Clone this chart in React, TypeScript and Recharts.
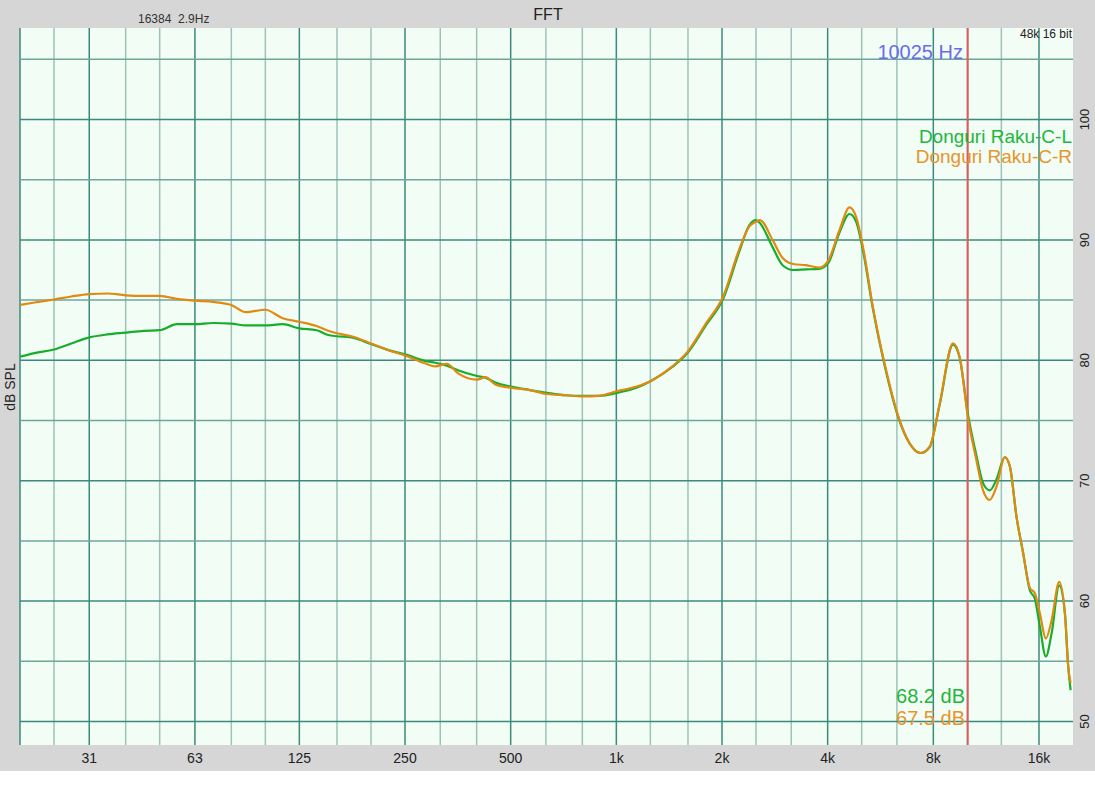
import React from "react";
import {
  LineChart,
  Line,
  XAxis,
  YAxis,
  CartesianGrid,
  ReferenceLine,
} from "recharts";

// frequency points (Hz) and measured SPL (dB) for both channels
const freqs = [
  20, 22, 25, 28, 31.5, 35.5, 40, 45, 50, 56, 63, 71, 80, 88, 100, 112, 125,
  140, 151, 160, 176, 200, 224, 253, 285, 305, 329, 355, 401, 424, 452, 505,
  563, 635, 717, 800, 892, 1006, 1136, 1266, 1444, 1594, 1799, 2015, 2238,
  2391, 2499, 2565, 2787, 2977, 3194, 3471, 3789, 4019, 4321, 4616, 4823,
  5059, 5380, 5809, 6367, 6846, 7360, 7808, 8339, 9100, 9509, 10043, 10612,
  11085, 11584, 12106, 12786, 13215, 13808, 14419, 15068, 15571, 16091, 16737,
  17377, 18270, 18965, 19381, 19690,
];

const leftSpl = [
  80.3, 80.6, 80.9, 81.4, 81.9, 82.15, 82.3, 82.45, 82.5, 83.0, 83.0, 83.1,
  83.05, 82.9, 82.9, 83.0, 82.65, 82.5, 82.1, 82.0, 81.9, 81.35, 80.85, 80.45,
  79.95, 79.8, 79.55, 79.15, 78.7, 78.55, 78.15, 77.8, 77.55, 77.3, 77.1,
  77.05, 77.05, 77.3, 77.7, 78.35, 79.45, 80.6, 82.9, 85.1, 89.0, 91.2, 91.65,
  91.4, 89.4, 87.9, 87.5, 87.55, 87.6, 88.1, 90.6, 92.15, 91.5, 88.9, 84.3,
  79.6, 75.2, 73.1, 72.3, 72.8, 76.3, 81.3, 80.2, 75.5, 72.1, 69.8, 69.2,
  70.1, 71.95, 71.2, 67.0, 64.0, 60.9, 60.2, 57.9, 55.4, 57.3, 61.3, 59.0,
  54.6, 52.6,
];

const rightSpl = [
  84.6, 84.8, 85.05, 85.3, 85.5, 85.55, 85.4, 85.35, 85.35, 85.1, 84.95, 84.85,
  84.6, 84.0, 84.2, 83.5, 83.2, 82.85, 82.45, 82.25, 82.0, 81.4, 80.85, 80.35,
  79.75, 79.5, 79.7, 78.9, 78.4, 78.6, 78.0, 77.7, 77.55, 77.2, 77.1, 77.0,
  77.05, 77.45, 77.8, 78.35, 79.5, 80.7, 83.05, 85.3, 89.2, 91.1, 91.5, 91.65,
  90.0, 88.5, 88.0, 87.9, 87.7, 88.3, 90.8, 92.7, 91.9, 89.2, 84.45, 79.75,
  75.3, 73.1, 72.3, 72.8, 76.4, 81.4, 80.3, 75.2, 71.7, 69.2, 68.4, 69.5,
  71.95, 71.2, 67.0, 64.0, 61.1, 60.65, 59.0, 56.9, 58.4, 61.6, 59.0, 54.55,
  53.2,
];

const xTicks = [31.5, 63, 125, 250, 500, 1000, 2000, 4000, 8000, 16000];
const xTickLabels = ["31", "63", "125", "250", "500", "1k", "2k", "4k", "8k", "16k"];
const yTicks = [50, 60, 70, 80, 90, 100];

const octaveLines = [20, 31.5, 63, 125, 250, 500, 1000, 2000, 4000, 8000, 16000];
const thirdLines = [
  25, 40, 50, 80, 100, 160, 200, 315, 400, 630, 800, 1250, 1600, 2500, 3150,
  5000, 6300, 10000, 12500,
];
const majorDb = [50, 60, 70, 80, 90, 100];
const minorDb = [55, 65, 75, 85, 95, 105];
const markerHz = 10025;

const rows = freqs.map((f, i) => ({ f, left: leftSpl[i], right: rightSpl[i] }));

const FONT = '"Liberation Sans", Arial, Helvetica, sans-serif';
const GREEN = "#17ad2b";
const ORANGE = "#e08a12";

function RightTick(props: any) {
  const { x, y, payload } = props;
  const cx = x + 4;
  return (
    <text
      x={cx}
      y={y}
      transform={`rotate(-90 ${cx} ${y})`}
      textAnchor="middle"
      dominantBaseline="central"
      fontSize={13}
      fill="#222"
      fontFamily={FONT}
    >
      {payload.value}
    </text>
  );
}

export default function App() {
  return (
    <div
      style={{
        position: "absolute",
        left: 0,
        top: 0,
        width: 1095,
        height: 800,
        background: "#fff",
        fontFamily: FONT,
      }}
    >
      <div style={{ position: "absolute", left: 0, top: 0, width: 1095, height: 771, background: "#d6d6d6" }}>
        <LineChart
          width={1095}
          height={771}
          data={rows}
          margin={{ top: 28, right: 0, bottom: 0, left: 20 }}
        >
          <CartesianGrid horizontal={false} vertical={false} fill="#f2fdf6" />
          {thirdLines.map((v) => (
            <ReferenceLine key={"t" + v} x={v} stroke="#9cc3bb" strokeWidth={1.5} />
          ))}
          {octaveLines.map((v) => (
            <ReferenceLine key={"o" + v} x={v} stroke="#3b8a7c" strokeWidth={1.5} />
          ))}
          {minorDb.map((v) => (
            <ReferenceLine key={"m" + v} y={v} stroke="#6fa69c" strokeWidth={1.5} />
          ))}
          {majorDb.map((v) => (
            <ReferenceLine key={"M" + v} y={v} stroke="#3b8a7c" strokeWidth={1.5} />
          ))}
          <ReferenceLine x={markerHz} stroke="#e05c5c" strokeWidth={2} />
          <XAxis
            dataKey="f"
            type="number"
            scale="log"
            domain={[20, 20000]}
            allowDataOverflow
            ticks={xTicks}
            interval={0}
            tickFormatter={(v) => xTickLabels[xTicks.indexOf(v)]}
            axisLine={false}
            tickLine={false}
            height={26}
            tick={{ fill: "#222", fontSize: 14, fontFamily: FONT }}
          />
          <YAxis
            orientation="right"
            type="number"
            domain={[48.05, 107.6]}
            allowDataOverflow
            ticks={yTicks}
            interval={0}
            axisLine={false}
            tickLine={false}
            width={22}
            tick={<RightTick />}
          />
          <Line
            dataKey="left"
            type="monotone"
            stroke={GREEN}
            strokeWidth={2.2}
            dot={false}
            isAnimationActive={false}
          />
          <Line
            dataKey="right"
            type="monotone"
            stroke={ORANGE}
            strokeWidth={2.2}
            dot={false}
            isAnimationActive={false}
          />
        </LineChart>
      </div>
      <svg
        width={1095}
        height={800}
        style={{ position: "absolute", left: 0, top: 0, pointerEvents: "none" }}
        fontFamily={FONT}
      >
        <text x={548} y={20} textAnchor="middle" fontSize={16} fill="#222">
          FFT
        </text>
        <text x={138} y={23} fontSize={12} fill="#333" style={{ whiteSpace: "pre" }}>
          {"16384  2.9Hz"}
        </text>
        <text x={1072} y={37.5} textAnchor="end" fontSize={12} fill="#222">
          48k 16 bit
        </text>
        <text x={963} y={59} textAnchor="end" fontSize={20} fill="#6b6bee">
          10025 Hz
        </text>
        <text x={1072} y={143} textAnchor="end" fontSize={19} fill="#22b63a">
          Donguri Raku-C-L
        </text>
        <text x={1072} y={163} textAnchor="end" fontSize={19} fill="#e6952a">
          Donguri Raku-C-R
        </text>
        <text x={965} y={703} textAnchor="end" fontSize={20} fill="#22b63a">
          68.2 dB
        </text>
        <text x={965} y={725} textAnchor="end" fontSize={20} fill="#e6952a">
          67.5 dB
        </text>
        <text
          x={10}
          y={387}
          transform="rotate(-90 10 387)"
          textAnchor="middle"
          dominantBaseline="central"
          fontSize={14}
          fill="#222"
        >
          dB SPL
        </text>
      </svg>
    </div>
  );
}
